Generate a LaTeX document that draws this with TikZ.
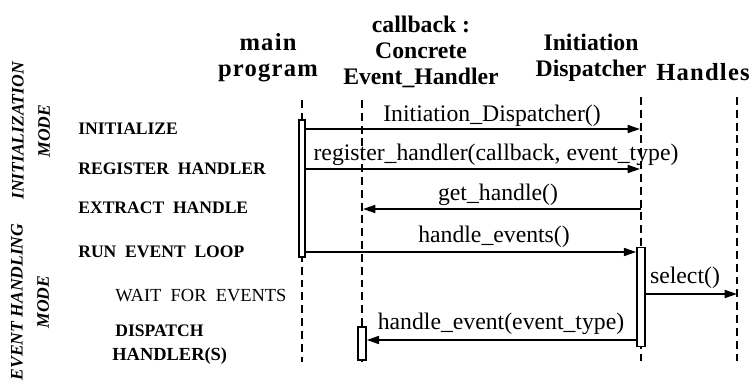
\documentclass[tikz,border=0pt]{standalone}
\usepackage{fontspec}
\setmainfont{Liberation Serif}
\usetikzlibrary{arrows.meta}
\usetikzlibrary{positioning}
\tikzset{lifeline/.style = {dash pattern=on 4.5pt off 2.8pt, line width=0.85pt}}
\tikzset{actbox/.style = {draw, fill=white, line width=0.85pt, inner sep=0}}
\tikzset{msg/.style = {-{Triangle[length=7pt,width=4.5pt]}, line width=1.1pt}}
\tikzset{msglabel/.style = {font=\fontsize{13.5}{15}\selectfont, inner sep=0}}
\tikzset{head/.style = {font=\bfseries\fontsize{13.5}{14.8}\selectfont, align=center, inner sep=0}}
\tikzset{widehead/.style = {head, font=\bfseries\fontsize{14}{14.8}\selectfont\addfontfeature{LetterSpace=5}}}
\tikzset{phase/.style = {font=\bfseries\fontsize{10}{12}\selectfont, anchor=west, inner sep=0}}
\tikzset{mode/.style = {font=\bfseries\itshape\fontsize{10}{15}\selectfont, align=center, rotate=90, inner sep=0}}

\begin{document}
\begin{tikzpicture}[x=0.02cm, y=-0.02cm]
        \useasboundingbox (0,0) rectangle (754,382);
        \node[widehead] (main) at (268,58) {main\\program};
        \node[head] (handler) at (421,52) {callback :\\Concrete\\Event\_Handler};
        \node[head] (dispatcher) at (591,58) {Initiation\\Dispatcher};
        \node[widehead] (handles) at (703,72) {Handles};
        \node[mode] (initmode) at (31,131) {INITIALIZATION\\MODE};
        \node[mode] (evmode) at (30,302) {EVENT HANDLING\\MODE};
        \node[phase] (initialize) at (78,129) {INITIALIZE};
        \node[phase] (register) at (78,169) {REGISTER \ HANDLER};
        \node[phase] (extract) at (78,208) {EXTRACT \ HANDLE};
        \node[phase] (runloop) at (78,252) {RUN \ EVENT \ LOOP};
        \node[phase, font=\fontsize{10.5}{12}\selectfont] (wait) at (115,296) {WAIT \ FOR \ EVENTS};
        \node[phase] (dispatch) at (115,331) {DISPATCH};
        \node[phase, font=\bfseries\fontsize{10.5}{12}\selectfont] (handlers) at (112,356) {HANDLER(S)};
        \coordinate (mainTop) at (302,100);
        \coordinate (mainBot) at (302,362);
        \coordinate (ehTop) at (362,100);
        \coordinate (ehBot) at (362,362);
        \coordinate (dispTop) at (641,97);
        \coordinate (dispBot) at (641,362);
        \coordinate (hTop) at (737,97);
        \coordinate (hBot) at (737,362);
        \draw[lifeline] (mainTop) -- (mainBot);
        \draw[lifeline] (ehTop) -- (ehBot);
        \draw[lifeline] (dispTop) -- (dispBot);
        \draw[lifeline] (hTop) -- (hBot);
        \node[actbox, minimum width=0.12cm, minimum height=2.74cm] (mainact) at (302,188.5) {};
        \node[actbox, minimum width=0.16cm, minimum height=1.98cm] (dispact) at (641,297) {};
        \node[actbox, minimum width=0.16cm, minimum height=0.66cm] (ehact) at (362,343.5) {};
        \coordinate (m1) at (640,129);
        \coordinate (m2) at (640,169);
        \coordinate (m3) at (641,209);
        \coordinate (m3e) at (363,209);
        \coordinate (m4) at (0,252);
        \coordinate (m5) at (737,294);
        \coordinate (m6) at (0,340);
        \draw[msg] (mainact.east |- m1) -- (m1);
        \draw[msg] (mainact.east |- m2) -- (m2);
        \draw[msg] (m3) -- (m3e);
        \draw[msg] (mainact.east |- m4) -- (dispact.west |- m4);
        \draw[msg] (dispact.east |- m5) -- (m5);
        \draw[msg] (dispact.west |- m6) -- (ehact.east |- m6);
        \node[msglabel] (l1) at (492,116) {Initiation\_Dispatcher()};
        \node[msglabel] (l2) at (496,155) {register\_handler(callback, event\_type)};
        \node[msglabel] (l3) at (498,195) {get\_handle()};
        \node[msglabel] (l4) at (494,237) {handle\_events()};
        \node[msglabel] (l5) at (685,278) {select()};
        \node[msglabel] (l6) at (501,324) {handle\_event(event\_type)};
    \end{tikzpicture}
\end{document}
